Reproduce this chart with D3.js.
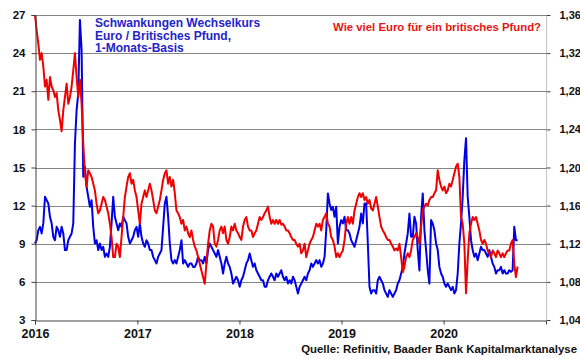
<!DOCTYPE html>
<html><head><meta charset="utf-8">
<script src="https://cdn.jsdelivr.net/npm/d3@7"></script>
<style>body{margin:0;background:#fff;} svg{display:block;font-family:"Liberation Sans",Arial,sans-serif;}</style>
</head><body>
<svg id="chart" width="580" height="359"></svg>
<script>
// ---- data (regular sampling grid, ~6 days apart, starting 2016-01-01) ----
const startDate = "2016-01-01";
const stepDays = 5.95;
// EUR/GBP 1-month volatility (left axis)
const volValues = [
9.02,9.28,10.07,10.33,9.81,10.60,12.70,12.43,12.17,11.12,
10.60,9.55,9.28,10.33,10.07,9.55,10.33,9.81,8.50,8.50,
9.28,9.55,9.81,10.60,16.89,19.52,20.83,26.61,24.24,14.27,
15.06,13.48,12.70,11.91,12.43,10.33,9.02,9.28,8.50,9.02,
8.50,8.76,7.97,8.23,7.97,8.76,10.60,12.70,11.12,10.60,
10.07,10.60,10.33,11.12,10.86,10.60,9.55,9.02,9.28,9.55,
10.07,10.33,9.55,10.60,9.55,9.02,8.76,9.28,9.02,8.50,
8.50,7.97,7.71,7.45,7.97,8.23,8.50,10.33,12.17,12.70,
11.12,9.02,7.71,7.45,7.71,7.45,7.97,8.50,9.28,7.45,
7.71,7.45,7.18,7.45,7.45,7.18,7.18,7.45,7.97,7.71,
7.71,7.45,7.97,7.45,8.50,9.02,8.76,8.50,8.23,7.97,
8.50,7.97,7.45,6.66,7.45,7.97,7.45,7.18,6.66,5.87,
6.13,6.40,6.13,5.61,6.13,6.40,6.92,7.45,7.71,8.23,
7.71,7.18,7.45,6.92,6.66,6.40,6.13,6.13,5.61,5.61,
6.13,6.40,6.66,6.40,6.13,6.66,6.40,6.66,6.92,6.40,
6.13,6.40,5.87,6.13,5.87,6.40,6.13,5.61,5.08,5.61,
5.87,6.13,6.40,6.13,6.66,6.92,7.45,7.18,7.45,7.71,
7.45,7.71,7.18,7.45,7.97,10.07,12.96,12.17,11.65,11.91,
11.12,11.91,9.02,10.33,10.86,10.60,11.12,10.07,10.07,9.81,
9.28,9.02,8.76,9.28,9.81,10.33,11.38,10.60,12.17,12.17,
9.02,5.61,
5.08,5.35,5.35,5.08,6.13,6.40,6.13,5.87,5.35,5.08,
4.82,5.35,5.08,4.82,5.08,5.35,5.87,6.13,6.66,7.18,
8.23,9.02,9.81,11.38,9.55,9.55,11.12,10.60,8.50,6.90,
11.12,12.96,10.07,8.50,6.92,5.87,10.86,10.60,10.07,9.02,
8.50,7.18,6.66,6.40,5.87,5.61,5.87,5.61,5.35,5.61,
5.08,5.35,6.66,9.02,10.60,12.70,15.58,17.30,12.70,11.12,
9.28,8.50,7.97,8.23,7.71,8.23,8.76,8.50,8.50,8.23,
7.97,8.50,7.97,7.45,7.18,6.66,6.92,6.92,7.18,6.66,
6.92,6.66,6.66,6.92,6.79,6.92,10.33,9.28,9.28
];
// Euro per British pound (right axis)
const rateValues = [
1.360,1.344,1.330,1.313,1.320,1.306,1.285,1.292,1.271,1.295,
1.285,1.281,1.274,1.278,1.260,1.250,1.238,1.260,1.274,1.288,
1.267,1.274,1.285,1.302,1.320,1.295,1.274,1.292,1.267,1.225,
1.194,1.180,1.197,1.194,1.190,1.183,1.176,1.162,1.152,1.155,
1.162,1.169,1.166,1.159,1.152,1.141,1.127,1.106,1.106,1.120,
1.117,1.106,1.127,1.148,1.169,1.180,1.190,1.194,1.183,1.187,
1.176,1.169,1.155,1.141,1.162,1.169,1.176,1.169,1.176,1.183,
1.176,1.166,1.155,1.152,1.159,1.166,1.176,1.187,1.194,1.197,
1.183,1.190,1.180,1.187,1.173,1.155,1.152,1.148,1.141,1.145,
1.134,1.138,1.131,1.127,1.134,1.124,1.117,1.113,1.106,1.099,
1.092,1.085,1.078,1.099,1.120,1.134,1.141,1.138,1.120,1.117,
1.124,1.134,1.138,1.131,1.138,1.124,1.120,1.127,1.138,1.134,
1.141,1.134,1.131,1.127,1.124,1.138,1.145,1.148,1.138,1.134,
1.134,1.127,1.131,1.134,1.141,1.148,1.145,1.148,1.152,1.155,
1.159,1.148,1.141,1.145,1.141,1.145,1.141,1.145,1.140,1.141,
1.138,1.134,1.134,1.131,1.127,1.124,1.124,1.120,1.117,1.120,
1.110,1.113,1.120,1.106,1.113,1.120,1.124,1.127,1.134,1.141,
1.138,1.141,1.134,1.145,1.148,1.152,1.141,1.138,1.127,1.124,
1.117,1.106,1.110,1.106,1.110,1.113,1.124,1.141,1.148,1.141,
1.148,1.141,1.155,1.162,1.169,1.173,1.169,1.173,1.166,1.169,
1.162,1.166,
1.157,1.155,1.162,1.169,1.159,1.148,1.138,1.134,1.131,1.127,
1.124,1.124,1.120,1.117,1.113,1.115,1.113,1.120,1.106,1.090,
1.096,1.106,1.110,1.106,1.113,1.124,1.127,1.131,1.127,1.120,
1.138,1.155,1.159,1.162,1.160,1.166,1.169,1.169,1.173,1.176,
1.197,1.187,1.180,1.176,1.180,1.173,1.176,1.183,1.180,1.187,
1.194,1.201,1.204,1.190,1.148,1.141,1.120,1.068,1.103,1.131,
1.141,1.148,1.145,1.148,1.141,1.134,1.124,1.120,1.124,1.120,
1.113,1.110,1.106,1.113,1.110,1.106,1.113,1.110,1.106,1.110,
1.106,1.110,1.113,1.113,1.120,1.124,1.099,1.085,1.096
];
const yearTicks = [2016, 2017, 2018, 2019, 2020];
const leftTicks = [3, 6, 9, 12, 15, 18, 21, 24, 27];
const rightTicks = [1.04, 1.08, 1.12, 1.16, 1.20, 1.24, 1.28, 1.32, 1.36];
const titleBlue = ["Schwankungen Wechselkurs", "Euro / Britisches Pfund,", "1-Monats-Basis"];
const titleRed = "Wie viel Euro für ein britisches Pfund?";
const sourceText = "Quelle: Refinitiv, Baader Bank Kapitalmarktanalyse";

// ---- chart ----
const svg = d3.select("#chart");
const L = 35, R = 546, T = 15, B = 320;
const t0 = d3.timeParse("%Y-%m-%d")(startDate);
const dateAt = i => new Date(t0.getTime() + i * stepDays * 86400000);

const x = d3.scaleTime().domain([new Date(2016,0,1), new Date(2021,0,1)]).range([L, R]);
const yL = d3.scaleLinear().domain([3, 27]).range([B, T]);
const yR = d3.scaleLinear().domain([1.04, 1.36]).range([B, T]);
const de = d3.formatLocale({decimal: ",", thousands: ".", grouping: [3], currency: ["", "€"]});
const fmtR = de.format(".2f");

// gridlines
svg.append("g").selectAll("line").data(leftTicks.filter(v => v > 3)).join("line")
  .attr("x1", L).attr("x2", R).attr("y1", d => Math.round(yL(d)) + 0.5).attr("y2", d => Math.round(yL(d)) + 0.5)
  .attr("stroke", "#858585").attr("stroke-width", 1);
// right frame
svg.append("line").attr("x1", R + 0.5).attr("x2", R + 0.5).attr("y1", T).attr("y2", B)
  .attr("stroke", "#c4c4c4").attr("stroke-width", 1);

// lines
const volData = volValues.map((v, i) => ({d: dateAt(i), v}));
const rateData = rateValues.map((v, i) => ({d: dateAt(i), v}));
svg.append("path").datum(volData)
  .attr("d", d3.line().x(p => x(p.d)).y(p => yL(p.v)))
  .attr("fill", "none").attr("stroke", "#0000e6").attr("stroke-width", 2).attr("stroke-linejoin", "round");
svg.append("path").datum(rateData)
  .attr("d", d3.line().x(p => x(p.d)).y(p => yR(p.v)))
  .attr("fill", "none").attr("stroke", "#f00000").attr("stroke-width", 2).attr("stroke-linejoin", "round");

// left axis
const gL = svg.append("g").attr("transform", `translate(${L + 0.5},0)`)
  .call(d3.axisLeft(yL).tickValues(leftTicks).tickSize(4).tickPadding(6).tickFormat(d3.format("d")));
gL.select(".domain").attr("stroke", "#404040");
gL.selectAll(".tick line").attr("stroke", "#404040");
gL.selectAll("text").attr("font-size", 11.5).attr("font-weight", "bold").attr("fill", "#111")
  .attr("font-family", "'Liberation Sans',Arial,sans-serif");

// right axis
const gR = svg.append("g").attr("transform", `translate(${R + 0.5},0)`)
  .call(d3.axisRight(yR).tickValues(rightTicks).tickSize(4).tickPadding(9).tickFormat(fmtR));
gR.select(".domain").remove();
gR.selectAll(".tick line").attr("stroke", "#404040");
gR.selectAll("text").attr("font-size", 11).attr("font-weight", "bold").attr("fill", "#111")
  .attr("font-family", "'Liberation Sans',Arial,sans-serif");

// bottom axis
const gB = svg.append("g").attr("transform", `translate(0,${B + 0.5})`)
  .call(d3.axisBottom(x).tickValues(yearTicks.map(y => new Date(y, 0, 1))).tickSize(4).tickPadding(5)
    .tickFormat(d3.timeFormat("%Y")));
gB.select(".domain").attr("stroke", "#404040");
gB.selectAll(".tick line").attr("stroke", "#404040");
gB.selectAll("text").attr("font-size", 12.5).attr("font-weight", "bold").attr("fill", "#111")
  .attr("font-family", "'Liberation Sans',Arial,sans-serif");

// titles
svg.append("g").selectAll("text").data(titleBlue).join("text")
  .attr("x", 95).attr("y", (d, i) => 27 + i * 12.5)
  .attr("font-size", 12).attr("font-weight", "bold").attr("fill", "#2424c8")
  .text(d => d);
svg.append("text").attr("x", 541).attr("y", 31).attr("text-anchor", "end")
  .attr("font-size", 11.35).attr("font-weight", "bold").attr("fill", "#e61414")
  .text(titleRed);
svg.append("text").attr("x", 577).attr("y", 352.5).attr("text-anchor", "end")
  .attr("font-size", 11.4).attr("font-weight", "bold").attr("fill", "#111")
  .text(sourceText);
</script>
</body></html>
